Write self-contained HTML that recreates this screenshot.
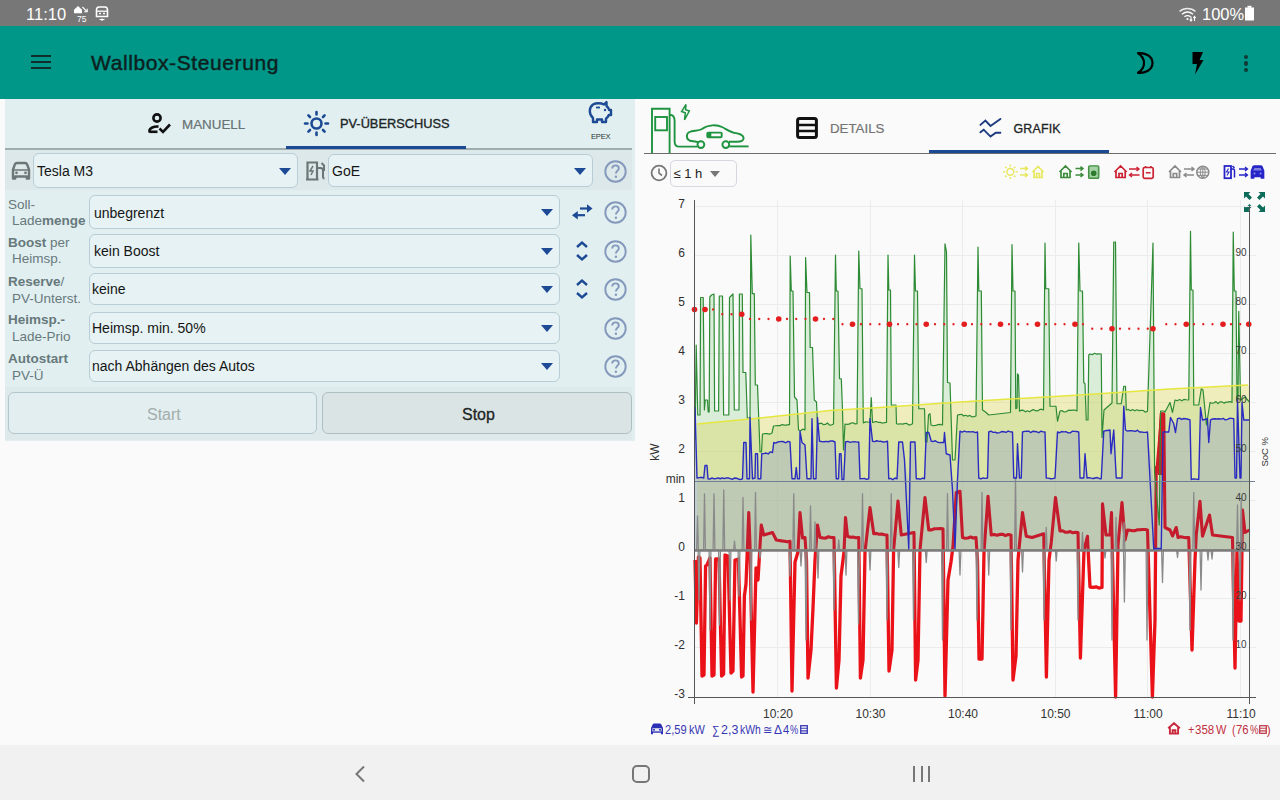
<!DOCTYPE html>
<html><head><meta charset="utf-8">
<style>
*{box-sizing:border-box}
html,body{margin:0;padding:0}
body{width:1280px;height:800px;overflow:hidden;position:relative;background:#fafafa;font-family:"Liberation Sans",sans-serif;color:#222}
.a{position:absolute}
#status{left:0;top:0;width:1280px;height:26px;background:#777777}
#appbar{left:0;top:26px;width:1280px;height:73px;background:#009688}
#nav{left:0;top:745px;width:1280px;height:55px;background:#f1f1f1}
#lp{left:5px;top:99px;width:630px;height:342px;background:#e1eff1}
.t{white-space:nowrap;line-height:1}
.box{position:absolute;border:1px solid #b9cdd6;border-radius:6px;background:#e6f2f3}
.arr{position:absolute;width:0;height:0;border-left:6px solid transparent;border-right:6px solid transparent;border-top:7px solid #1d4a94}
.help{position:absolute;width:24px;height:24px;border:2px solid #7f9fcc;border-radius:50%;color:#7f9fcc;font-size:17px;text-align:center;line-height:20px}
.lbl{position:absolute;font-size:13.5px;color:#67797b;line-height:16.5px;white-space:nowrap}
.lbl b{font-weight:bold}
.val{position:absolute;font-size:14px;color:#151515;white-space:nowrap;line-height:1}
</style></head>
<body>
<div id="status" class="a">
  <div class="a t" style="left:26px;top:6px;font-size:16.5px;color:#fff">11:10</div>
  <div class="a t" style="left:1202px;top:6px;font-size:16.5px;color:#fff">100%</div>
</div>
<div id="appbar" class="a">
  <div class="a t" style="left:91px;top:26px;font-size:21px;color:#0d1f1f;letter-spacing:0.6px;-webkit-text-stroke:0.45px #0d1f1f">Wallbox-Steuerung</div>
</div>

<div id="lp" class="a">
</div>
<!-- tabs -->
<svg class="a" style="left:148px;top:113px" width="24" height="21" viewBox="0 0 24 21">
  <circle cx="9" cy="5" r="3.6" fill="none" stroke="#111" stroke-width="2.6"/>
  <path d="M1.5 19.5 V17.8 C1.5 15 6 13.2 10.5 13.6" fill="none" stroke="#111" stroke-width="2.6"/>
  <path d="M1.3 18.8 H9.5" stroke="#111" stroke-width="2.6"/>
  <path d="M11.5 15.5 L15 19 L22 11.5" fill="none" stroke="#111" stroke-width="2.6"/>
</svg>
<div class="a t" style="left:182px;top:117.7px;font-size:13.4px;color:#667274;-webkit-text-stroke:0.2px #667274">MANUELL</div>
<svg class="a" style="left:303px;top:110px" width="27" height="27" viewBox="0 0 27 27">
  <circle cx="13.5" cy="13.5" r="5" fill="none" stroke="#1d4a94" stroke-width="2.6"/>
  <g stroke="#1d4a94" stroke-width="2.6" stroke-linecap="round">
  <path d="M13.5 2 V4.5 M13.5 22.5 V25 M2 13.5 H4.5 M22.5 13.5 H25 M5.4 5.4 L7 7 M20 20 L21.6 21.6 M5.4 21.6 L7 20 M20 7 L21.6 5.4"/>
  </g>
</svg>
<div class="a t" style="left:340px;top:118px;font-size:12.8px;color:#1c2626;-webkit-text-stroke:0.35px #1c2626">PV-ÜBERSCHUSS</div>
<svg class="a" style="left:588px;top:100px" width="25" height="24" viewBox="0 0 25 24">
  <path d="M5 4.5 C8 2.8 13 2.8 16 4.5 L18.5 2 V6 C20 7.2 21 8.5 21.2 10 H23 V15 H20.8 C20 17 19 18 18 18.5 V22 H14 V19.5 H9 V22 H5 V18 C2.5 16 1.8 13.5 1.8 11 C1.8 8 3 6 5 4.5 Z" fill="none" stroke="#1d4a94" stroke-width="2.4" stroke-linejoin="round"/>
  <circle cx="17" cy="10" r="1.2" fill="#1d4a94"/>
  <path d="M8 7.5 H12" stroke="#1d4a94" stroke-width="1.8"/>
</svg>
<div class="a t" style="left:591px;top:133.3px;font-size:7.6px;color:#2b3333;letter-spacing:-0.25px">EPEX</div>
<div class="a" style="left:5px;top:148px;width:627px;height:2px;background:#9eaeae"></div>
<div class="a" style="left:286px;top:146px;width:180px;height:3px;background:#1d4a94"></div>
<!-- car row -->
<div class="a" style="left:5px;top:150px;width:627px;height:40px;background:#dce8ea"></div>
<svg class="a" style="left:10px;top:161px" width="22" height="20" viewBox="0 0 22 20">
  <path d="M3 8.5 L5 3.2 C5.3 2.5 6 2 6.8 2 H15.2 C16 2 16.7 2.5 17 3.2 L19 8.5 V17.5 H16.8 V15.5 H5.2 V17.5 H3 Z" fill="none" stroke="#6c7676" stroke-width="2.4" stroke-linejoin="round"/>
  <path d="M3 9 H19" stroke="#6c7676" stroke-width="1.5"/>
  <circle cx="6.5" cy="11.8" r="1.4" fill="#6c7676"/><circle cx="15.5" cy="11.8" r="1.4" fill="#6c7676"/>
</svg>
<div class="box" style="left:33px;top:153px;width:265px;height:35px"></div>
<div class="val" style="left:37px;top:164.0px">Tesla M3</div>
<div class="arr" style="left:279px;top:168px"></div>
<svg class="a" style="left:305px;top:160px" width="21" height="21" viewBox="0 0 21 21">
  <path d="M2.5 19.5 V2.5 H12 V19.5" fill="none" stroke="#6c7676" stroke-width="2.2"/>
  <path d="M1 19.5 H13.5" stroke="#6c7676" stroke-width="2"/>
  <path d="M8 6 L5 11 H8 L6 15" fill="none" stroke="#6c7676" stroke-width="1.5"/>
  <path d="M12 8 H15.5 C17 8 18 9 18 10.5 V16.5 C18 17.8 18.8 18.5 19.5 18.5" fill="none" stroke="#6c7676" stroke-width="2"/>
  <path d="M16.5 3 L19 5.5 V11" fill="none" stroke="#6c7676" stroke-width="2"/>
</svg>
<div class="box" style="left:328px;top:154px;width:265px;height:33px"></div>
<div class="val" style="left:332px;top:164.0px">GoE</div>
<div class="arr" style="left:574px;top:168px"></div>

<!-- rows -->
<svg class="a" style="left:603px;top:159px" width="25" height="25" viewBox="0 0 25 25"><circle cx="12.5" cy="12.5" r="10.2" fill="none" stroke="#8499bb" stroke-width="1.9"/><path d="M9.2 9.6 C9.2 7.6 10.6 6.4 12.5 6.4 C14.4 6.4 15.8 7.6 15.8 9.4 C15.8 11.6 12.9 11.8 12.9 14.6" fill="none" stroke="#8499bb" stroke-width="1.9"/><circle cx="12.9" cy="17.8" r="1.2" fill="#8499bb"/></svg>
<div class="box" style="left:89px;top:195px;width:471px;height:34px"></div>
<div class="val" style="left:94px;top:205.5px">unbegrenzt</div>
<div class="arr" style="left:541px;top:209.0px"></div>
<div class="lbl" style="left:8px;top:197.5px;line-height:1">Soll-</div>
<div class="lbl" style="left:12px;top:214.1px;line-height:1">Lade<b>menge</b></div>
<svg class="a" style="left:570px;top:203px" width="24" height="18" viewBox="570 203 24 18">
 <path d="M580 208.5 H588" stroke="#1d4a94" stroke-width="2.2"/>
 <path d="M587 204.2 L592.5 208.5 L587 212.8 Z" fill="#1d4a94"/>
 <path d="M577 215.2 H585" stroke="#1d4a94" stroke-width="2.2"/>
 <path d="M577.8 211 L572 215.2 L577.8 219.4 Z" fill="#1d4a94"/>
</svg>
<svg class="a" style="left:603px;top:200px" width="25" height="25" viewBox="0 0 25 25"><circle cx="12.5" cy="12.5" r="10.2" fill="none" stroke="#8499bb" stroke-width="1.9"/><path d="M9.2 9.6 C9.2 7.6 10.6 6.4 12.5 6.4 C14.4 6.4 15.8 7.6 15.8 9.4 C15.8 11.6 12.9 11.8 12.9 14.6" fill="none" stroke="#8499bb" stroke-width="1.9"/><circle cx="12.9" cy="17.8" r="1.2" fill="#8499bb"/></svg>
<div class="box" style="left:89px;top:234px;width:471px;height:34px"></div>
<div class="val" style="left:94px;top:244.1px">kein Boost</div>
<div class="arr" style="left:541px;top:248.0px"></div>
<div class="lbl" style="left:8px;top:235.7px;line-height:1"><b>Boost</b> per</div>
<div class="lbl" style="left:12px;top:252.3px;line-height:1">Heimsp.</div>
<svg class="a" style="left:575px;top:240px" width="14" height="22" viewBox="0 0 14 22"><path d="M2 7 L7 2.5 L12 7" fill="none" stroke="#1d4a94" stroke-width="2.4"/><path d="M2 15 L7 19.5 L12 15" fill="none" stroke="#1d4a94" stroke-width="2.4"/></svg>
<svg class="a" style="left:603px;top:239px" width="25" height="25" viewBox="0 0 25 25"><circle cx="12.5" cy="12.5" r="10.2" fill="none" stroke="#8499bb" stroke-width="1.9"/><path d="M9.2 9.6 C9.2 7.6 10.6 6.4 12.5 6.4 C14.4 6.4 15.8 7.6 15.8 9.4 C15.8 11.6 12.9 11.8 12.9 14.6" fill="none" stroke="#8499bb" stroke-width="1.9"/><circle cx="12.9" cy="17.8" r="1.2" fill="#8499bb"/></svg>
<div class="box" style="left:89px;top:273px;width:471px;height:32px"></div>
<div class="val" style="left:92px;top:282.3px">keine</div>
<div class="arr" style="left:541px;top:286.0px"></div>
<div class="lbl" style="left:8px;top:275.1px;line-height:1"><b>Reserve</b>/</div>
<div class="lbl" style="left:12px;top:291.8px;line-height:1">PV-Unterst.</div>
<svg class="a" style="left:575px;top:278px" width="14" height="22" viewBox="0 0 14 22"><path d="M2 7 L7 2.5 L12 7" fill="none" stroke="#1d4a94" stroke-width="2.4"/><path d="M2 15 L7 19.5 L12 15" fill="none" stroke="#1d4a94" stroke-width="2.4"/></svg>
<svg class="a" style="left:603px;top:277px" width="25" height="25" viewBox="0 0 25 25"><circle cx="12.5" cy="12.5" r="10.2" fill="none" stroke="#8499bb" stroke-width="1.9"/><path d="M9.2 9.6 C9.2 7.6 10.6 6.4 12.5 6.4 C14.4 6.4 15.8 7.6 15.8 9.4 C15.8 11.6 12.9 11.8 12.9 14.6" fill="none" stroke="#8499bb" stroke-width="1.9"/><circle cx="12.9" cy="17.8" r="1.2" fill="#8499bb"/></svg>
<div class="box" style="left:89px;top:311.5px;width:471px;height:32px"></div>
<div class="val" style="left:92px;top:321.0px">Heimsp. min. 50%</div>
<div class="arr" style="left:541px;top:324.5px"></div>
<div class="lbl" style="left:8px;top:313.2px;line-height:1"><b>Heimsp.-</b></div>
<div class="lbl" style="left:12px;top:330.1px;line-height:1">Lade-Prio</div>
<svg class="a" style="left:603px;top:316px" width="25" height="25" viewBox="0 0 25 25"><circle cx="12.5" cy="12.5" r="10.2" fill="none" stroke="#8499bb" stroke-width="1.9"/><path d="M9.2 9.6 C9.2 7.6 10.6 6.4 12.5 6.4 C14.4 6.4 15.8 7.6 15.8 9.4 C15.8 11.6 12.9 11.8 12.9 14.6" fill="none" stroke="#8499bb" stroke-width="1.9"/><circle cx="12.9" cy="17.8" r="1.2" fill="#8499bb"/></svg>
<div class="box" style="left:89px;top:350px;width:471px;height:32px"></div>
<div class="val" style="left:92px;top:359.1px">nach Abhängen des Autos</div>
<div class="arr" style="left:541px;top:363.0px"></div>
<div class="lbl" style="left:8px;top:351.8px;line-height:1"><b>Autostart</b></div>
<div class="lbl" style="left:12px;top:368.8px;line-height:1">PV-Ü</div>
<svg class="a" style="left:603px;top:354px" width="25" height="25" viewBox="0 0 25 25"><circle cx="12.5" cy="12.5" r="10.2" fill="none" stroke="#8499bb" stroke-width="1.9"/><path d="M9.2 9.6 C9.2 7.6 10.6 6.4 12.5 6.4 C14.4 6.4 15.8 7.6 15.8 9.4 C15.8 11.6 12.9 11.8 12.9 14.6" fill="none" stroke="#8499bb" stroke-width="1.9"/><circle cx="12.9" cy="17.8" r="1.2" fill="#8499bb"/></svg>
<div class="a" style="left:5px;top:387px;width:627px;height:53px;background:#dde9eb"></div>
<div class="box" style="left:8px;top:392px;width:309px;height:42px;background:#e2eeef;border-color:#b3c6cc"></div>
<div class="a t" style="left:147px;top:406.5px;font-size:16px;color:#a3adad">Start</div>
<div class="box" style="left:322px;top:391.5px;width:310px;height:42.5px;background:#dae4e4;border-color:#aebfc4"></div>
<div class="a t" style="left:462px;top:406.5px;font-size:16px;color:#1f2525;-webkit-text-stroke:0.3px #1f2525">Stop</div>
<!-- right header -->
<svg class="a" style="left:645px;top:100px" width="110" height="56" viewBox="645 100 110 56">
 <g fill="none" stroke="#1f9440" stroke-width="1.9">
  <path d="M652 153 V108.8 H669.6 V153"/>
  <rect x="655.2" y="117" width="11.8" height="13.3"/>
  <path d="M669.6 114.7 C673.5 114.7 674.6 117 674.6 121 V141.5 C674.6 145 675.5 146.6 679 146.6 H697.5"/>
  <circle cx="700.9" cy="144.6" r="3.4"/>
  <path d="M698.5 142.2 C695 141 692 141.5 689.5 140.5 C686 139 686 133.5 689.5 132 C693 130.5 699 131 702 129 C708 124.5 717 124.5 722 127 C726 129 729 131.5 733 132.5 C738 133.5 743 134 743.5 137.5 C744 141 741 141.5 737 141.7 H729"/>
  <circle cx="725.8" cy="144.6" r="3.4"/>
  <path d="M729.2 146.4 H748.6"/>
  <rect x="707.3" y="132.6" width="14.4" height="4.6" rx="1"/>
  <path d="M686 104.5 L681.6 111.5 L685.3 112.8 L684.5 119.8 L689.3 111 L685.6 109.8 Z" stroke-width="1.5"/>
 </g>
 <rect x="707.3" y="132.6" width="4" height="4.6" fill="#1f9440"/>
</svg>
<div class="a" style="left:644px;top:152.5px;width:632px;height:1px;background:#6c6c6c"></div>
<div class="a" style="left:929px;top:150px;width:180px;height:3px;background:#1d4a94"></div>
<svg class="a" style="left:796px;top:117px" width="22" height="22" viewBox="0 0 22 22">
 <rect x="1.6" y="1.6" width="18.8" height="18.8" rx="2" fill="none" stroke="#111" stroke-width="3"/>
 <path d="M1.6 8 H20.4 M1.6 14 H20.4" stroke="#111" stroke-width="2.6"/>
</svg>
<div class="a t" style="left:830px;top:122px;font-size:13.3px;color:#747474;-webkit-text-stroke:0.2px #747474">DETAILS</div>
<svg class="a" style="left:974px;top:112px" width="34" height="30" viewBox="974 112 34 30">
 <path d="M980.4 124.9 L985.4 120.6 L990.5 126 L1000.4 118.9" fill="none" stroke="#1c3a7e" stroke-width="1.9" stroke-linecap="round"/>
 <path d="M980.4 132.3 L983.7 129.7 L990.5 136.6 L995.8 132.7 H1000.4" fill="none" stroke="#1c3a7e" stroke-width="1.9" stroke-linecap="round"/>
</svg>
<div class="a t" style="left:1013.5px;top:122.6px;font-size:12.4px;color:#1d2424;-webkit-text-stroke:0.3px #1d2424;letter-spacing:0.2px">GRAFIK</div>
<!-- time selector -->
<svg class="a" style="left:650px;top:164px" width="18" height="18" viewBox="0 0 18 18">
 <circle cx="9" cy="9" r="7.4" fill="none" stroke="#777" stroke-width="1.8"/>
 <path d="M9 4.5 V9.2 L12 11.5" fill="none" stroke="#777" stroke-width="1.6"/>
</svg>
<div class="a" style="left:669.5px;top:159.5px;width:67.5px;height:27px;border:1.5px solid #d6d8e0;border-radius:5px"></div>
<div class="a t" style="left:673.5px;top:167px;font-size:13px;color:#222">≤ 1 h</div>
<div class="a" style="left:710px;top:170.5px;width:0;height:0;border-left:5.5px solid transparent;border-right:5.5px solid transparent;border-top:6px solid #777"></div>
<!-- status icons -->
<svg class="a" style="left:72px;top:4px" width="18" height="19" viewBox="72 4 18 19">
 <path d="M74 9.8 L78 6 L82 9.8 V13.2 H74 Z" fill="#fff"/>
 <path d="M82.5 7 L87.2 11.8 M87.2 8.8 V11.8 H84.2" fill="none" stroke="#fff" stroke-width="1.1"/>
 <text x="77" y="21.5" font-size="8.5" fill="#fff" font-family="Liberation Sans">75</text>
</svg>
<svg class="a" style="left:95px;top:6px" width="14" height="16" viewBox="0 0 14 16">
 <path d="M1.5 4 C1.5 2 2.5 1 4 1 H10 C11.5 1 12.5 2 12.5 4 V10.5 H1.5 Z" fill="none" stroke="#fff" stroke-width="1.6"/>
 <path d="M2 5.2 H12" stroke="#fff" stroke-width="1.3"/>
 <path d="M4 7.5 H6 M8 7.5 H10" stroke="#fff" stroke-width="1.3"/>
 <path d="M4.5 13.5 H9.5 M7 12.5 V15" stroke="#fff" stroke-width="1.2"/>
</svg>
<svg class="a" style="left:1178px;top:6px" width="20" height="16" viewBox="0 0 20 16">
 <path d="M1.5 5.5 C6 1.5 13 1.5 17.5 5.5" fill="none" stroke="#fff" stroke-width="1.4" opacity="0.85"/>
 <path d="M4 8.2 C7.5 5.3 11.5 5.3 15 8.2" fill="none" stroke="#fff" stroke-width="1.4"/>
 <path d="M6.5 10.8 C8.5 9.2 10.5 9.2 12.5 10.8" fill="none" stroke="#fff" stroke-width="1.4"/>
 <circle cx="9.5" cy="13" r="1.1" fill="#fff"/>
 <path d="M13 10.5 V14.5 M11.8 13.5 L13 15 L14.2 13.5 M16.5 15 V11 M15.3 12 L16.5 10.5 L17.7 12" fill="none" stroke="#fff" stroke-width="1.1"/>
</svg>
<svg class="a" style="left:1244px;top:5px" width="11" height="16" viewBox="0 0 11 16">
 <rect x="1" y="2.5" width="9" height="13" fill="#fff"/>
 <rect x="3.5" y="0.8" width="4" height="2" fill="#fff"/>
</svg>
<!-- appbar icons -->
<div class="a" style="left:30.5px;top:55px;width:20.5px;height:2px;background:#0f2e2c"></div>
<div class="a" style="left:30.5px;top:61px;width:20.5px;height:2px;background:#0f2e2c"></div>
<div class="a" style="left:30.5px;top:67px;width:20.5px;height:2px;background:#0f2e2c"></div>
<svg class="a" style="left:1135px;top:51px" width="20" height="24" viewBox="0 0 20 24">
 <path d="M3 2.2 C9 1.5 17.5 4.5 17.5 12 C17.5 19.5 9 22.5 3 21.8 C7.5 19 9 15.5 9 12 C9 8.5 7.5 5 3 2.2 Z" fill="none" stroke="#000" stroke-width="2.2" stroke-linejoin="round"/>
</svg>
<svg class="a" style="left:1191px;top:51px" width="14" height="24" viewBox="0 0 14 24">
 <path d="M1.5 1 H12 L8.5 9 H12.5 L4 23.5 L6 13 H1.5 Z" fill="#000"/>
</svg>
<div class="a" style="left:1243.5px;top:54.5px;width:4.5px;height:4.5px;border-radius:50%;background:#0f3a36"></div>
<div class="a" style="left:1243.5px;top:61px;width:4.5px;height:4.5px;border-radius:50%;background:#0f3a36"></div>
<div class="a" style="left:1243.5px;top:67.5px;width:4.5px;height:4.5px;border-radius:50%;background:#0f3a36"></div>
<!-- legend -->
<svg class="a" style="left:995px;top:160px" width="280" height="26" viewBox="995 160 280 26">
 <g stroke="#e8e860" fill="none" stroke-width="1.5">
  <circle cx="1010.3" cy="171.8" r="3.4"/>
  <path d="M1010.3 164.5 V166.5 M1010.3 177 V179 M1003 171.8 H1005 M1015.6 171.8 H1017.6 M1005.2 166.7 L1006.5 168 M1014.1 175.6 L1015.4 176.9 M1005.2 176.9 L1006.5 175.6 M1014.1 168 L1015.4 166.7"/>
  <path d="M1020 168.6 H1027 M1025 166.6 L1027.5 168.6 L1025 170.6 M1020 175 H1027 M1025 173 L1027.5 175 L1025 177"/>
  <path d="M1032.5 172 L1038 166.5 L1043.5 172 M1034 170.8 V177.5 H1042 V170.8 M1036.5 177.5 V173.5 H1039.5 V177.5" stroke-width="1.7"/>
 </g>
 <g stroke="#3c8c3c" fill="none" stroke-width="1.7">
  <path d="M1059.5 172 L1065.5 166 L1071.5 172 M1061 170.5 V177.5 H1070 V170.5 M1063.8 177.5 V173.5 H1067.2 V177.5"/>
  <path d="M1075.5 168.6 H1082.5 M1080.5 166.6 L1083 168.6 L1080.5 170.6 M1075.5 175 H1082.5 M1080.5 173 L1083 175 L1080.5 177" stroke-width="1.5"/>
  <rect x="1088.8" y="166" width="9.8" height="12.2" rx="1"/>
 </g>
 <rect x="1088.8" y="166" width="9.8" height="12.2" rx="1" fill="#6fb86f" opacity="0.6"/>
 <circle cx="1093.7" cy="173.2" r="2.8" fill="#2e7a2e"/>
 <g stroke="#cc2233" fill="none" stroke-width="1.7">
  <path d="M1114.5 172 L1120.6 166 L1126.7 172 M1116 170.5 V177.5 H1125.2 V170.5 M1119 177.5 V173.5 H1122.2 V177.5"/>
  <path d="M1129 169 H1139 M1136.5 167 L1139 169 L1136.5 171 M1139.5 175 H1129.5 M1132 173 L1129.5 175 L1132 177" stroke-width="1.4"/>
  <rect x="1143.2" y="167.5" width="10" height="10.8" rx="1.5"/>
  <path d="M1145.5 166 V167.5 M1151 166 V167.5 M1145.8 172.8 H1150.6" stroke-width="1.6"/>
 </g>
 <g stroke="#8a8a8a" fill="none" stroke-width="1.7">
  <path d="M1169 172 L1175 166 L1181 172 M1170.5 170.5 V177.5 H1179.5 V170.5 M1173.3 177.5 V173.5 H1176.7 V177.5"/>
  <path d="M1184 169 H1194 M1191.5 167 L1194 169 L1191.5 171 M1194 175 H1184 M1186.5 173 L1184 175 L1186.5 177" stroke-width="1.4"/>
  <circle cx="1202.8" cy="172.2" r="6" stroke-width="1.5"/>
  <path d="M1196.8 172.2 H1208.8 M1202.8 166.2 V178.2 M1197.8 169 H1207.8 M1197.8 175.4 H1207.8 M1202.8 166.2 C1199.5 169 1199.5 175.5 1202.8 178.2 C1206 175.5 1206 169 1202.8 166.2" stroke-width="1"/>
 </g>
 <g stroke="#2626c8" fill="none" stroke-width="1.8">
  <rect x="1224.5" y="166" width="6.5" height="12.2"/>
  <path d="M1228.5 168.5 L1226.5 172 H1229 L1227 175.5" stroke-width="1.1"/>
  <path d="M1231 169 H1233 C1234 169 1234.5 170 1234.5 171 V177.5 M1232.5 166 L1234.5 168" stroke-width="1.5"/>
  <path d="M1239 169 H1247 M1245 167 L1247.5 169 L1245 171 M1239 175 H1247 M1245 173 L1247.5 175 L1245 177" stroke-width="1.3"/>
  <path d="M1251.5 171 L1253 167 C1253.3 166.4 1253.8 166 1254.5 166 H1260.5 C1261.2 166 1261.7 166.4 1262 167 L1263.5 171 V178 H1261.5 V176.5 H1253.5 V178 H1251.5 Z" stroke-width="1.7" fill="#2626c8"/>
 </g>
 <path d="M1254.3 168 H1260.7 L1261.8 170.6 H1253.2 Z" fill="#8080e0"/>
 <circle cx="1254.5" cy="173.6" r="1" fill="#9090e8"/><circle cx="1260.5" cy="173.6" r="1" fill="#9090e8"/>
</svg>
<!-- fullscreen -->
<svg class="a" style="left:1243px;top:191px" width="23" height="22" viewBox="0 0 23 22">
 <g fill="#0d6b5a">
  <path d="M1 1 H7.5 L5.5 3 L9 6.5 L6.5 9 L3 5.5 L1 7.5 Z"/>
  <path d="M22 1 H15.5 L17.5 3 L14 6.5 L16.5 9 L20 5.5 L22 7.5 Z"/>
  <path d="M1 21 H7.5 L5.5 19 L9 15.5 L6.5 13 L3 16.5 L1 14.5 Z"/>
  <path d="M22 21 H15.5 L17.5 19 L14 15.5 L16.5 13 L20 16.5 L22 14.5 Z"/>
 </g>
</svg>
<!-- footer -->
<svg class="a" style="left:650px;top:723px" width="14" height="12" viewBox="0 0 14 12">
 <path d="M1 5 L2.8 1.2 C3 0.7 3.5 0.5 4 0.5 H10 C10.5 0.5 11 0.7 11.2 1.2 L13 5 V11.3 H11 V9.8 H3 V11.3 H1 Z" fill="#2b2fb5"/>
 <rect x="2.4" y="5.2" width="9.2" height="3.2" fill="#fafafa" opacity="0.9"/>
 <circle cx="4" cy="6.8" r="1" fill="#2b2fb5"/><circle cx="10" cy="6.8" r="1" fill="#2b2fb5"/>
</svg>
<div class="a t" style="left:665.2px;top:723.6px;font-size:12px;color:#3636b4;transform-origin:0 0;transform:scaleX(0.925)">2,59</div>
<div class="a t" style="left:688.6px;top:723.6px;font-size:12px;color:#3636b4;transform-origin:0 0;transform:scaleX(0.912)">kW</div>
<div class="a t" style="left:711.5px;top:723.6px;font-size:12px;color:#3636b4;transform-origin:0 0;transform:scaleX(0.876)">∑</div>
<div class="a t" style="left:721.2px;top:723.6px;font-size:12px;color:#3636b4;transform-origin:0 0;transform:scaleX(1.038)">2,3</div>
<div class="a t" style="left:739.5px;top:723.6px;font-size:12px;color:#3636b4;transform-origin:0 0;transform:scaleX(0.863)">kWh</div>
<div class="a t" style="left:762.6px;top:723.6px;font-size:12px;color:#3636b4;transform-origin:0 0;transform:scaleX(0.933)">≅</div>
<div class="a t" style="left:774px;top:723.6px;font-size:12px;color:#3636b4;transform-origin:0 0;transform:scaleX(0.998)">Δ</div>
<div class="a t" style="left:782.6px;top:723.6px;font-size:12px;color:#3636b4;transform-origin:0 0;transform:scaleX(0.929)">4</div>
<div class="a t" style="left:790.2px;top:723.6px;font-size:12px;color:#3636b4;transform-origin:0 0;transform:scaleX(0.768)">%</div>
<svg class="a" style="left:799.5px;top:724.8px" width="8" height="9" viewBox="0 0 8 9">
 <rect x="0.7" y="0.7" width="6.6" height="7.6" fill="none" stroke="#3a3ab5" stroke-width="1.3"/>
 <path d="M0.7 3.3 H7.3 M0.7 5.9 H7.3" stroke="#3a3ab5" stroke-width="1.1"/>
</svg>
<svg class="a" style="left:1167px;top:722px" width="14" height="13" viewBox="0 0 14 13">
 <path d="M1.2 6.3 L7 1.2 L12.8 6.3 M2.9 4.9 V11.6 H11.1 V4.9 M5.6 11.6 V8.2 H8.4 V11.6" fill="none" stroke="#c8283a" stroke-width="1.9"/>
</svg>
<div class="a t" style="left:1187.6px;top:723.6px;font-size:12px;color:#c0303f;transform-origin:0 0;transform:scaleX(0.912)">+</div>
<div class="a t" style="left:1194.8px;top:723.6px;font-size:12px;color:#c0303f;transform-origin:0 0;transform:scaleX(0.959)">358</div>
<div class="a t" style="left:1215.8px;top:723.6px;font-size:12px;color:#c0303f;transform-origin:0 0;transform:scaleX(0.918)">W</div>
<div class="a t" style="left:1232px;top:723.6px;font-size:12px;color:#c0303f;transform-origin:0 0;transform:scaleX(0.875)">(</div>
<div class="a t" style="left:1236px;top:723.6px;font-size:12px;color:#c0303f;transform-origin:0 0;transform:scaleX(0.944)">76</div>
<div class="a t" style="left:1249.8px;top:723.6px;font-size:12px;color:#c0303f;transform-origin:0 0;transform:scaleX(0.806)">%</div>
<div class="a t" style="left:1266.8px;top:723.6px;font-size:12px;color:#c0303f;transform-origin:0 0;transform:scaleX(1.000)">)</div>
<svg class="a" style="left:1259px;top:724.8px" width="8" height="9" viewBox="0 0 8 9">
 <rect x="0.7" y="0.7" width="6.6" height="7.6" fill="none" stroke="#c0404f" stroke-width="1.3"/>
 <path d="M0.7 3.3 H7.3 M0.7 5.9 H7.3" stroke="#c0404f" stroke-width="1.1"/>
</svg>
<!--CHART-->
<svg class="a" style="left:0;top:0" width="1280" height="800" viewBox="0 0 1280 800">
<path d="M695 647.5 H1256 M695 598.5 H1256 M695 549.5 H1256 M695 500.5 H1256 M695 451.5 H1256 M695 402.5 H1256 M695 353.5 H1256 M695 304.5 H1256 M695 255.5 H1256 M695 206.5 H1256 M777.5 200 V697.5 M870.5 200 V697.5 M962.5 200 V697.5 M1055.5 200 V697.5 M1147.5 200 V697.5 M1240.5 200 V697.5" stroke="#ececec" stroke-width="1" fill="none"/>
<polygon points="695.00,440.00 696.20,345.00 697.80,415.00 700.00,415.00 700.60,297.50 703.20,297.50 704.40,410.00 705.20,400.00 707.50,400.00 708.20,412.00 709.20,412.00 709.80,297.00 711.50,295.00 714.00,294.00 714.60,411.00 718.60,411.00 719.30,296.00 722.50,296.00 723.60,415.00 728.80,415.00 729.50,297.50 733.00,294.00 734.30,410.00 739.00,410.00 739.40,294.00 742.30,294.00 743.00,372.50 745.80,372.50 747.30,418.00 750.00,418.00 750.80,235.00 752.30,293.70 754.30,293.70 755.30,385.00 757.50,385.00 760.00,452.00 761.50,452.00 762.50,434.00 764.88,433.65 767.25,433.63 769.62,434.18 772.00,433.00 773.50,426.00 775.64,425.74 777.79,425.65 779.93,425.64 782.07,424.56 784.21,425.10 786.36,425.17 788.50,424.70 789.50,424.70 790.20,256.00 791.30,291.00 793.00,291.00 794.50,397.00 797.00,400.00 798.50,430.00 800.67,430.64 802.83,429.11 805.00,430.00 805.60,257.50 807.00,292.50 809.50,292.50 810.20,347.50 812.50,347.50 814.30,400.00 816.50,402.00 817.50,424.00 819.50,423.57 821.50,423.10 823.50,424.68 825.50,424.43 827.50,422.99 829.50,425.06 831.50,425.02 833.50,424.00 835.50,255.00 836.30,291.00 838.00,291.00 839.50,378.75 841.30,378.75 842.50,410.00 843.50,450.00 845.00,424.00 847.00,424.30 849.00,424.17 851.00,423.12 853.00,422.77 855.00,423.85 857.00,423.75 858.75,251.00 860.00,288.75 862.00,288.75 863.30,423.00 865.53,421.86 867.77,421.99 870.00,422.50 871.25,397.50 872.50,422.50 874.50,421.93 876.50,421.47 878.50,422.42 880.50,422.37 882.50,423.25 884.50,422.54 886.50,422.50 888.00,255.00 888.80,290.00 890.50,290.00 891.30,405.00 896.00,405.00 896.50,423.75 898.50,424.06 900.50,423.75 902.50,424.11 904.50,423.66 906.50,423.26 908.50,424.84 910.50,424.84 912.50,423.75 914.50,255.00 915.50,291.00 917.50,291.00 918.75,408.75 924.50,408.75 925.50,442.00 927.00,442.00 928.50,415.00 930.00,413.75 931.00,425.00 933.30,425.75 935.60,425.46 937.90,424.59 940.20,424.41 942.50,425.00 945.00,243.75 946.50,252.00 947.50,382.50 950.00,383.00 952.50,460.00 955.00,460.00 957.50,415.00 959.56,414.65 961.61,414.28 963.67,415.92 965.72,415.23 967.78,416.32 969.83,415.42 971.89,416.79 973.94,416.65 976.00,416.00 978.00,247.00 978.80,291.00 981.30,291.00 982.50,410.00 985.50,412.00 988.75,415.00 1010.50,412.50 1012.00,244.50 1013.00,291.00 1015.00,291.00 1015.75,408.75 1017.00,408.00 1017.50,373.75 1018.50,375.00 1019.50,411.25 1021.50,410.05 1023.50,410.40 1025.50,411.84 1027.50,410.77 1029.50,411.79 1031.50,410.40 1033.50,409.58 1035.50,410.70 1037.50,410.93 1039.50,409.70 1041.50,409.20 1043.50,410.00 1045.00,243.00 1045.75,288.75 1048.75,288.75 1050.00,406.25 1056.00,406.25 1057.50,421.25 1060.00,411.00 1062.12,410.63 1064.25,412.02 1066.38,411.57 1068.50,410.16 1070.62,410.44 1072.75,410.12 1074.88,410.03 1077.00,411.00 1078.75,243.00 1080.00,291.00 1082.50,291.00 1083.75,382.50 1085.00,383.75 1086.25,420.00 1088.00,420.00 1088.75,355.00 1090.00,354.00 1092.25,354.65 1094.50,353.29 1096.75,354.13 1099.00,353.88 1101.25,354.00 1102.00,437.50 1104.00,410.00 1112.00,403.00 1113.75,242.00 1115.50,242.00 1117.00,403.75 1121.25,403.75 1123.75,386.25 1125.50,386.25 1126.25,410.00 1128.38,409.44 1130.50,410.76 1132.62,409.56 1134.75,410.82 1136.88,409.78 1139.00,410.58 1141.12,410.24 1143.25,410.49 1145.38,412.16 1147.50,411.25 1153.00,243.00 1154.60,473.00 1159.30,525.00 1160.60,411.00 1163.75,411.00 1165.00,412.00 1170.00,402.50 1172.50,412.50 1175.00,400.00 1177.29,400.67 1179.58,399.57 1181.88,400.85 1184.17,399.36 1186.46,399.77 1188.75,400.00 1190.50,231.25 1191.30,290.00 1193.00,290.00 1193.75,405.00 1198.75,405.00 1201.25,388.75 1203.00,390.00 1205.00,410.00 1206.50,425.00 1210.00,402.50 1212.00,403.28 1214.00,402.81 1216.00,401.62 1218.00,403.58 1220.00,401.87 1222.00,401.97 1224.00,403.10 1226.00,402.12 1228.00,402.05 1230.00,401.56 1232.00,402.50 1233.25,232.00 1234.30,291.00 1236.00,291.00 1237.00,400.00 1238.00,400.00 1238.75,311.25 1240.50,400.00 1245.00,397.00 1249.50,402.00 1249.5,550 695,550" fill="rgba(100,190,90,0.21)"/>
<polygon points="697.00,424.00 760.00,418.00 830.00,410.50 880.00,407.50 960.00,402.00 1080.00,395.00 1170.00,389.00 1248.00,385.00 1249.5,385 1249.5,550 697,550" fill="rgba(220,210,50,0.30)"/>
<polygon points="695.00,407.50 697.00,478.00 699.25,477.65 701.50,477.30 703.75,478.00 705.00,465.50 707.00,465.50 708.00,478.75 710.03,479.05 712.06,477.89 714.09,478.82 716.12,478.48 718.15,477.87 720.18,478.76 722.21,477.82 724.24,478.62 726.26,477.89 728.29,477.93 730.32,478.60 732.35,479.40 734.38,478.00 736.41,478.20 738.44,479.00 740.47,479.65 742.50,478.75 743.75,442.50 746.00,442.50 747.00,478.75 749.50,478.75 750.00,417.50 752.50,478.75 755.00,478.00 755.50,453.75 757.50,453.75 758.00,478.75 760.75,478.75 761.75,453.75 763.90,453.65 766.05,453.04 768.20,453.95 770.35,451.84 772.50,452.50 773.75,442.50 775.78,443.15 777.81,441.95 779.84,441.60 781.88,441.49 783.91,441.80 785.94,442.76 787.97,441.42 790.00,442.00 792.00,478.75 795.00,478.75 796.25,467.50 797.50,478.75 799.50,478.75 800.00,431.25 802.00,442.50 805.00,445.00 807.00,478.75 811.00,478.75 812.00,418.75 813.50,478.75 816.00,478.75 817.50,417.50 819.50,441.25 821.71,441.52 823.93,441.74 826.14,441.32 828.36,441.77 830.57,440.91 832.79,441.01 835.00,442.00 836.25,478.75 838.50,478.75 839.50,453.75 841.00,453.75 842.00,479.50 843.75,479.50 845.50,442.00 847.71,441.41 849.92,442.36 852.12,441.86 854.33,441.63 856.54,442.17 858.75,442.00 860.00,478.75 862.19,478.66 864.38,478.35 866.56,479.34 868.75,478.75 870.00,418.75 872.50,441.25 874.64,441.65 876.79,440.74 878.93,441.40 881.07,441.30 883.21,442.00 885.36,441.71 887.50,441.25 888.75,478.75 890.81,478.33 892.88,479.71 894.94,477.99 897.00,478.75 898.75,442.00 902.50,442.00 904.50,460.00 908.75,482.00 910.50,442.00 915.00,442.00 916.25,478.75 918.31,478.59 920.38,479.26 922.44,478.05 924.50,478.75 926.25,432.50 928.75,432.50 931.25,441.25 933.33,441.44 935.42,440.75 937.50,442.21 939.58,442.61 941.67,442.44 943.75,442.50 944.50,432.50 946.25,453.75 950.00,455.00 952.50,482.00 955.00,482.00 957.50,480.00 960.00,431.25 962.19,432.09 964.38,431.06 966.56,431.92 968.75,431.81 970.94,431.88 973.12,431.72 975.31,432.59 977.50,432.00 978.75,478.00 980.94,478.89 983.12,477.95 985.31,478.33 987.50,478.00 988.75,432.00 990.91,431.12 993.07,432.40 995.23,432.29 997.39,432.99 999.55,432.64 1001.70,431.57 1003.86,431.77 1006.02,432.34 1008.18,431.05 1010.34,431.92 1012.50,432.00 1013.75,478.00 1016.50,478.00 1017.50,443.75 1019.50,478.00 1021.25,478.00 1022.50,432.00 1024.55,431.34 1026.59,431.23 1028.64,431.12 1030.68,432.54 1032.73,431.26 1034.77,431.50 1036.82,431.78 1038.86,432.74 1040.91,431.16 1042.95,431.90 1045.00,432.00 1046.25,478.00 1048.44,478.10 1050.62,478.77 1052.81,478.64 1055.00,478.00 1057.50,432.00 1059.62,432.73 1061.75,431.56 1063.88,431.83 1066.00,431.72 1068.12,432.77 1070.25,432.92 1072.38,431.30 1074.50,431.35 1076.62,431.46 1078.75,432.00 1080.00,478.00 1083.75,478.00 1085.00,453.75 1087.00,478.00 1089.04,477.57 1091.07,478.18 1093.11,478.50 1095.14,477.95 1097.18,477.54 1099.21,478.48 1101.25,478.75 1103.75,431.25 1105.83,430.57 1107.92,430.55 1110.00,430.00 1111.00,453.75 1113.75,430.00 1116.25,478.00 1122.00,478.00 1123.75,406.25 1125.50,430.00 1127.50,431.09 1129.50,430.74 1131.50,430.58 1133.50,430.96 1135.50,431.26 1137.50,430.20 1139.50,432.07 1141.50,432.01 1143.50,432.39 1145.50,432.41 1147.50,432.00 1153.75,482.00 1156.25,482.00 1158.75,482.00 1161.25,482.00 1163.00,432.00 1168.75,432.00 1170.50,417.50 1173.75,423.75 1175.50,432.50 1177.50,418.75 1179.58,418.17 1181.67,419.44 1183.75,418.50 1185.83,418.72 1187.92,419.21 1190.00,420.00 1191.25,479.50 1193.75,478.82 1196.25,479.18 1198.75,479.50 1200.50,407.50 1202.50,420.00 1207.50,418.75 1208.75,442.50 1210.50,420.00 1212.61,418.99 1214.73,418.77 1216.84,418.96 1218.95,418.75 1221.07,419.16 1223.18,418.37 1225.30,419.95 1227.41,419.32 1229.52,418.27 1231.64,418.37 1233.75,418.75 1235.00,478.00 1236.50,478.00 1237.50,400.00 1240.00,478.00 1241.00,478.00 1242.00,402.50 1243.75,420.00 1249.50,420.00 1249.5,550 695,550" fill="rgba(147,158,205,0.37)"/>
<defs><clipPath id="cpos"><rect x="690" y="190" width="570" height="360"/></clipPath><clipPath id="cneg"><rect x="690" y="550" width="570" height="160"/></clipPath></defs>
<polyline clip-path="url(#cneg)" points="695.00,560.00 696.40,623.00 698.40,557.00 700.00,558.00 702.00,676.00 704.00,675.00 705.60,566.00 707.00,565.00 710.00,558.00 712.00,676.00 714.00,675.00 715.60,559.00 719.00,559.00 721.60,676.00 723.60,674.00 725.00,555.00 728.00,556.00 731.00,673.00 733.00,671.00 735.00,560.00 738.40,559.00 741.60,677.00 743.00,676.00 744.40,596.00 746.00,584.00 748.75,512.50 750.00,545.00 751.00,600.00 753.00,692.00 756.00,568.00 758.00,580.00 761.25,525.00 763.75,535.00 772.50,532.50 776.25,540.00 779.00,540.45 781.75,540.89 784.50,541.22 787.25,541.71 790.00,541.25 792.00,691.00 795.00,562.00 798.00,552.00 800.00,512.50 802.50,538.00 805.00,537.50 806.50,560.00 808.00,678.00 811.00,650.00 813.00,608.00 815.00,560.00 817.50,525.00 820.00,537.50 822.80,537.88 825.60,538.18 828.40,536.75 831.20,537.44 834.00,537.50 836.40,688.00 839.00,660.00 841.00,576.00 844.00,552.00 845.50,517.50 847.50,536.25 850.31,537.27 853.12,537.11 855.94,537.83 858.75,537.50 860.40,678.00 863.00,660.00 865.00,552.00 870.00,507.50 873.75,533.75 876.40,533.38 879.05,534.20 881.70,534.09 884.35,534.82 887.00,535.00 889.00,671.00 892.00,650.00 893.60,550.00 898.00,501.00 901.25,535.00 914.00,532.50 915.60,680.00 918.00,660.00 920.00,550.00 925.00,497.50 928.75,530.00 931.60,529.87 934.45,528.72 937.30,528.80 940.15,528.65 943.00,528.75 945.00,696.00 948.00,580.00 951.00,562.00 953.00,546.00 956.25,492.50 960.00,491.25 962.50,537.50 965.20,538.17 967.90,537.93 970.60,536.96 973.30,537.98 976.00,537.50 977.50,560.00 979.00,659.00 982.00,659.00 984.00,552.00 988.00,496.25 991.25,535.00 994.07,534.42 996.89,535.19 999.71,534.40 1002.54,534.20 1005.36,535.59 1008.18,534.54 1011.00,535.00 1013.00,680.00 1016.00,656.00 1018.00,560.00 1022.50,512.50 1026.25,536.25 1032.00,537.50 1043.75,533.75 1046.40,677.00 1049.00,560.00 1051.25,542.50 1055.50,497.50 1060.00,531.00 1062.57,530.76 1065.14,532.20 1067.71,532.24 1070.29,531.52 1072.86,532.81 1075.43,532.35 1078.00,532.50 1080.40,658.00 1084.00,550.00 1087.50,536.25 1088.00,548.00 1090.00,587.00 1093.00,587.41 1096.00,586.78 1099.00,588.08 1102.00,587.50 1102.50,503.75 1106.00,535.00 1110.00,535.00 1111.50,512.50 1115.60,697.00 1118.00,545.00 1122.00,502.50 1125.00,540.00 1127.50,530.00 1130.00,530.31 1132.50,530.75 1135.00,530.63 1137.50,529.68 1140.00,529.78 1142.50,529.47 1145.00,529.43 1147.50,530.00 1152.40,697.00 1155.00,620.00 1156.25,467.50 1158.50,466.00 1161.25,413.75 1163.75,413.75 1165.00,527.50 1170.00,530.00 1172.50,536.00 1176.25,527.50 1178.00,537.50 1180.69,536.80 1183.38,537.18 1186.06,537.66 1188.75,537.50 1192.00,650.00 1195.00,560.00 1196.25,535.00 1200.00,501.25 1202.50,536.25 1209.50,515.00 1212.50,535.00 1232.50,537.50 1235.00,668.00 1237.00,550.00 1239.00,621.00 1241.00,621.00 1242.50,510.00 1245.00,532.50 1249.50,530.00" fill="none" stroke="#ea1218" stroke-width="3.3" stroke-linejoin="round"/>
<polyline clip-path="url(#cpos)" points="695.00,560.00 696.40,623.00 698.40,557.00 700.00,558.00 702.00,676.00 704.00,675.00 705.60,566.00 707.00,565.00 710.00,558.00 712.00,676.00 714.00,675.00 715.60,559.00 719.00,559.00 721.60,676.00 723.60,674.00 725.00,555.00 728.00,556.00 731.00,673.00 733.00,671.00 735.00,560.00 738.40,559.00 741.60,677.00 743.00,676.00 744.40,596.00 746.00,584.00 748.75,512.50 750.00,545.00 751.00,600.00 753.00,692.00 756.00,568.00 758.00,580.00 761.25,525.00 763.75,535.00 772.50,532.50 776.25,540.00 779.00,540.45 781.75,540.89 784.50,541.22 787.25,541.71 790.00,541.25 792.00,691.00 795.00,562.00 798.00,552.00 800.00,512.50 802.50,538.00 805.00,537.50 806.50,560.00 808.00,678.00 811.00,650.00 813.00,608.00 815.00,560.00 817.50,525.00 820.00,537.50 822.80,537.88 825.60,538.18 828.40,536.75 831.20,537.44 834.00,537.50 836.40,688.00 839.00,660.00 841.00,576.00 844.00,552.00 845.50,517.50 847.50,536.25 850.31,537.27 853.12,537.11 855.94,537.83 858.75,537.50 860.40,678.00 863.00,660.00 865.00,552.00 870.00,507.50 873.75,533.75 876.40,533.38 879.05,534.20 881.70,534.09 884.35,534.82 887.00,535.00 889.00,671.00 892.00,650.00 893.60,550.00 898.00,501.00 901.25,535.00 914.00,532.50 915.60,680.00 918.00,660.00 920.00,550.00 925.00,497.50 928.75,530.00 931.60,529.87 934.45,528.72 937.30,528.80 940.15,528.65 943.00,528.75 945.00,696.00 948.00,580.00 951.00,562.00 953.00,546.00 956.25,492.50 960.00,491.25 962.50,537.50 965.20,538.17 967.90,537.93 970.60,536.96 973.30,537.98 976.00,537.50 977.50,560.00 979.00,659.00 982.00,659.00 984.00,552.00 988.00,496.25 991.25,535.00 994.07,534.42 996.89,535.19 999.71,534.40 1002.54,534.20 1005.36,535.59 1008.18,534.54 1011.00,535.00 1013.00,680.00 1016.00,656.00 1018.00,560.00 1022.50,512.50 1026.25,536.25 1032.00,537.50 1043.75,533.75 1046.40,677.00 1049.00,560.00 1051.25,542.50 1055.50,497.50 1060.00,531.00 1062.57,530.76 1065.14,532.20 1067.71,532.24 1070.29,531.52 1072.86,532.81 1075.43,532.35 1078.00,532.50 1080.40,658.00 1084.00,550.00 1087.50,536.25 1088.00,548.00 1090.00,587.00 1093.00,587.41 1096.00,586.78 1099.00,588.08 1102.00,587.50 1102.50,503.75 1106.00,535.00 1110.00,535.00 1111.50,512.50 1115.60,697.00 1118.00,545.00 1122.00,502.50 1125.00,540.00 1127.50,530.00 1130.00,530.31 1132.50,530.75 1135.00,530.63 1137.50,529.68 1140.00,529.78 1142.50,529.47 1145.00,529.43 1147.50,530.00 1152.40,697.00 1155.00,620.00 1156.25,467.50 1158.50,466.00 1161.25,413.75 1163.75,413.75 1165.00,527.50 1170.00,530.00 1172.50,536.00 1176.25,527.50 1178.00,537.50 1180.69,536.80 1183.38,537.18 1186.06,537.66 1188.75,537.50 1192.00,650.00 1195.00,560.00 1196.25,535.00 1200.00,501.25 1202.50,536.25 1209.50,515.00 1212.50,535.00 1232.50,537.50 1235.00,668.00 1237.00,550.00 1239.00,621.00 1241.00,621.00 1242.50,510.00 1245.00,532.50 1249.50,530.00" fill="none" stroke="#c41c2c" stroke-width="3.1" stroke-linejoin="round"/>
<polygon points="1155.5,469 1160.3,413 1164.2,413 1163.2,475 1158,475" fill="#d41a24"/>
<polyline points="695.00,550.00 696.60,550.00 697.50,516.00 698.40,550.00 698.10,550.00 699.00,600.00 699.90,550.00 703.60,550.00 704.50,494.00 705.40,550.00 709.10,550.00 710.00,630.00 710.90,550.00 713.10,550.00 714.00,494.00 714.90,550.00 718.60,550.00 719.50,625.00 720.40,550.00 722.85,550.00 723.75,490.00 724.65,550.00 729.10,550.00 730.00,600.00 730.90,550.00 733.60,550.00 734.50,541.00 735.40,550.00 738.10,550.00 739.00,596.00 739.90,550.00 742.10,550.00 743.00,497.50 743.90,550.00 750.10,550.00 751.00,620.00 751.90,550.00 754.60,550.00 755.50,492.50 756.40,550.00 759.10,550.00 760.00,558.00 760.90,550.00 789.10,550.00 790.00,576.00 790.90,550.00 792.85,550.00 793.75,494.00 794.65,550.00 800.10,550.00 801.00,566.00 801.90,550.00 805.10,550.00 806.00,640.00 806.90,550.00 809.60,550.00 810.50,506.00 811.40,550.00 814.10,550.00 815.00,522.00 815.90,550.00 817.10,550.00 818.00,578.00 818.90,550.00 833.10,550.00 834.00,610.00 834.90,550.00 837.85,550.00 838.75,540.00 839.65,550.00 845.10,550.00 846.00,575.00 846.90,550.00 857.60,550.00 858.50,624.00 859.40,550.00 861.60,550.00 862.50,493.75 863.40,550.00 869.10,550.00 870.00,570.00 870.90,550.00 886.10,550.00 887.00,620.00 887.90,550.00 890.35,550.00 891.25,493.75 892.15,550.00 897.85,550.00 898.75,567.50 899.65,550.00 912.60,550.00 913.50,620.00 914.40,550.00 925.35,550.00 926.25,562.50 927.15,550.00 941.60,550.00 942.50,640.00 943.40,550.00 946.60,550.00 947.50,493.75 948.40,550.00 959.10,550.00 960.00,575.00 960.90,550.00 976.10,550.00 977.00,620.00 977.90,550.00 981.10,550.00 982.00,492.50 982.90,550.00 987.85,550.00 988.75,575.00 989.65,550.00 1010.10,550.00 1011.00,630.00 1011.90,550.00 1014.60,550.00 1015.50,477.50 1016.40,550.00 1021.60,550.00 1022.50,572.00 1023.40,550.00 1043.10,550.00 1044.00,620.00 1044.90,550.00 1045.35,550.00 1046.25,527.50 1047.15,550.00 1055.35,550.00 1056.25,561.00 1057.15,550.00 1077.10,550.00 1078.00,620.00 1078.90,550.00 1081.60,550.00 1082.50,532.50 1083.40,550.00 1104.10,550.00 1105.00,558.00 1105.90,550.00 1111.10,550.00 1112.00,640.00 1112.90,550.00 1115.10,550.00 1116.00,517.50 1116.90,550.00 1123.10,550.00 1124.00,522.50 1124.90,550.00 1123.50,550.00 1124.40,602.00 1125.30,550.00 1146.10,550.00 1147.00,640.00 1147.90,550.00 1161.60,550.00 1162.50,582.50 1163.40,550.00 1176.60,550.00 1177.50,557.50 1178.40,550.00 1189.10,550.00 1190.00,630.00 1190.90,550.00 1192.85,550.00 1193.75,492.50 1194.65,550.00 1200.10,550.00 1201.00,590.00 1201.90,550.00 1207.10,550.00 1208.00,560.00 1208.90,550.00 1211.10,550.00 1212.00,559.00 1212.90,550.00 1232.10,550.00 1233.00,640.00 1233.90,550.00 1236.60,550.00 1237.50,505.00 1238.40,550.00 1239.10,550.00 1240.00,600.00 1240.90,550.00 1240.35,550.00 1241.25,498.75 1242.15,550.00 1249.50,550.00" fill="none" stroke="#8a8a8a" stroke-width="1.3" stroke-linejoin="round"/>
<path d="M695 550.5 H1249.5" stroke="#7c7c7c" stroke-width="2.5"/>
<polyline points="695.00,440.00 696.20,345.00 697.80,415.00 700.00,415.00 700.60,297.50 703.20,297.50 704.40,410.00 705.20,400.00 707.50,400.00 708.20,412.00 709.20,412.00 709.80,297.00 711.50,295.00 714.00,294.00 714.60,411.00 718.60,411.00 719.30,296.00 722.50,296.00 723.60,415.00 728.80,415.00 729.50,297.50 733.00,294.00 734.30,410.00 739.00,410.00 739.40,294.00 742.30,294.00 743.00,372.50 745.80,372.50 747.30,418.00 750.00,418.00 750.80,235.00 752.30,293.70 754.30,293.70 755.30,385.00 757.50,385.00 760.00,452.00 761.50,452.00 762.50,434.00 764.88,433.65 767.25,433.63 769.62,434.18 772.00,433.00 773.50,426.00 775.64,425.74 777.79,425.65 779.93,425.64 782.07,424.56 784.21,425.10 786.36,425.17 788.50,424.70 789.50,424.70 790.20,256.00 791.30,291.00 793.00,291.00 794.50,397.00 797.00,400.00 798.50,430.00 800.67,430.64 802.83,429.11 805.00,430.00 805.60,257.50 807.00,292.50 809.50,292.50 810.20,347.50 812.50,347.50 814.30,400.00 816.50,402.00 817.50,424.00 819.50,423.57 821.50,423.10 823.50,424.68 825.50,424.43 827.50,422.99 829.50,425.06 831.50,425.02 833.50,424.00 835.50,255.00 836.30,291.00 838.00,291.00 839.50,378.75 841.30,378.75 842.50,410.00 843.50,450.00 845.00,424.00 847.00,424.30 849.00,424.17 851.00,423.12 853.00,422.77 855.00,423.85 857.00,423.75 858.75,251.00 860.00,288.75 862.00,288.75 863.30,423.00 865.53,421.86 867.77,421.99 870.00,422.50 871.25,397.50 872.50,422.50 874.50,421.93 876.50,421.47 878.50,422.42 880.50,422.37 882.50,423.25 884.50,422.54 886.50,422.50 888.00,255.00 888.80,290.00 890.50,290.00 891.30,405.00 896.00,405.00 896.50,423.75 898.50,424.06 900.50,423.75 902.50,424.11 904.50,423.66 906.50,423.26 908.50,424.84 910.50,424.84 912.50,423.75 914.50,255.00 915.50,291.00 917.50,291.00 918.75,408.75 924.50,408.75 925.50,442.00 927.00,442.00 928.50,415.00 930.00,413.75 931.00,425.00 933.30,425.75 935.60,425.46 937.90,424.59 940.20,424.41 942.50,425.00 945.00,243.75 946.50,252.00 947.50,382.50 950.00,383.00 952.50,460.00 955.00,460.00 957.50,415.00 959.56,414.65 961.61,414.28 963.67,415.92 965.72,415.23 967.78,416.32 969.83,415.42 971.89,416.79 973.94,416.65 976.00,416.00 978.00,247.00 978.80,291.00 981.30,291.00 982.50,410.00 985.50,412.00 988.75,415.00 1010.50,412.50 1012.00,244.50 1013.00,291.00 1015.00,291.00 1015.75,408.75 1017.00,408.00 1017.50,373.75 1018.50,375.00 1019.50,411.25 1021.50,410.05 1023.50,410.40 1025.50,411.84 1027.50,410.77 1029.50,411.79 1031.50,410.40 1033.50,409.58 1035.50,410.70 1037.50,410.93 1039.50,409.70 1041.50,409.20 1043.50,410.00 1045.00,243.00 1045.75,288.75 1048.75,288.75 1050.00,406.25 1056.00,406.25 1057.50,421.25 1060.00,411.00 1062.12,410.63 1064.25,412.02 1066.38,411.57 1068.50,410.16 1070.62,410.44 1072.75,410.12 1074.88,410.03 1077.00,411.00 1078.75,243.00 1080.00,291.00 1082.50,291.00 1083.75,382.50 1085.00,383.75 1086.25,420.00 1088.00,420.00 1088.75,355.00 1090.00,354.00 1092.25,354.65 1094.50,353.29 1096.75,354.13 1099.00,353.88 1101.25,354.00 1102.00,437.50 1104.00,410.00 1112.00,403.00 1113.75,242.00 1115.50,242.00 1117.00,403.75 1121.25,403.75 1123.75,386.25 1125.50,386.25 1126.25,410.00 1128.38,409.44 1130.50,410.76 1132.62,409.56 1134.75,410.82 1136.88,409.78 1139.00,410.58 1141.12,410.24 1143.25,410.49 1145.38,412.16 1147.50,411.25 1153.00,243.00 1154.60,473.00 1159.30,525.00 1160.60,411.00 1163.75,411.00 1165.00,412.00 1170.00,402.50 1172.50,412.50 1175.00,400.00 1177.29,400.67 1179.58,399.57 1181.88,400.85 1184.17,399.36 1186.46,399.77 1188.75,400.00 1190.50,231.25 1191.30,290.00 1193.00,290.00 1193.75,405.00 1198.75,405.00 1201.25,388.75 1203.00,390.00 1205.00,410.00 1206.50,425.00 1210.00,402.50 1212.00,403.28 1214.00,402.81 1216.00,401.62 1218.00,403.58 1220.00,401.87 1222.00,401.97 1224.00,403.10 1226.00,402.12 1228.00,402.05 1230.00,401.56 1232.00,402.50 1233.25,232.00 1234.30,291.00 1236.00,291.00 1237.00,400.00 1238.00,400.00 1238.75,311.25 1240.50,400.00 1245.00,397.00 1249.50,402.00" fill="none" stroke="#2e8b35" stroke-width="1.2" stroke-linejoin="round"/>
<polyline points="697.00,424.00 760.00,418.00 830.00,410.50 880.00,407.50 960.00,402.00 1080.00,395.00 1170.00,389.00 1248.00,385.00" fill="none" stroke="#e6e640" stroke-width="1.5"/>
<polyline points="695.00,407.50 697.00,478.00 699.25,477.65 701.50,477.30 703.75,478.00 705.00,465.50 707.00,465.50 708.00,478.75 710.03,479.05 712.06,477.89 714.09,478.82 716.12,478.48 718.15,477.87 720.18,478.76 722.21,477.82 724.24,478.62 726.26,477.89 728.29,477.93 730.32,478.60 732.35,479.40 734.38,478.00 736.41,478.20 738.44,479.00 740.47,479.65 742.50,478.75 743.75,442.50 746.00,442.50 747.00,478.75 749.50,478.75 750.00,417.50 752.50,478.75 755.00,478.00 755.50,453.75 757.50,453.75 758.00,478.75 760.75,478.75 761.75,453.75 763.90,453.65 766.05,453.04 768.20,453.95 770.35,451.84 772.50,452.50 773.75,442.50 775.78,443.15 777.81,441.95 779.84,441.60 781.88,441.49 783.91,441.80 785.94,442.76 787.97,441.42 790.00,442.00 792.00,478.75 795.00,478.75 796.25,467.50 797.50,478.75 799.50,478.75 800.00,431.25 802.00,442.50 805.00,445.00 807.00,478.75 811.00,478.75 812.00,418.75 813.50,478.75 816.00,478.75 817.50,417.50 819.50,441.25 821.71,441.52 823.93,441.74 826.14,441.32 828.36,441.77 830.57,440.91 832.79,441.01 835.00,442.00 836.25,478.75 838.50,478.75 839.50,453.75 841.00,453.75 842.00,479.50 843.75,479.50 845.50,442.00 847.71,441.41 849.92,442.36 852.12,441.86 854.33,441.63 856.54,442.17 858.75,442.00 860.00,478.75 862.19,478.66 864.38,478.35 866.56,479.34 868.75,478.75 870.00,418.75 872.50,441.25 874.64,441.65 876.79,440.74 878.93,441.40 881.07,441.30 883.21,442.00 885.36,441.71 887.50,441.25 888.75,478.75 890.81,478.33 892.88,479.71 894.94,477.99 897.00,478.75 898.75,442.00 902.50,442.00 904.50,460.00 908.75,548.75 910.50,442.00 915.00,442.00 916.25,478.75 918.31,478.59 920.38,479.26 922.44,478.05 924.50,478.75 926.25,432.50 928.75,432.50 931.25,441.25 933.33,441.44 935.42,440.75 937.50,442.21 939.58,442.61 941.67,442.44 943.75,442.50 944.50,432.50 946.25,453.75 950.00,455.00 952.50,490.00 955.00,548.75 957.50,480.00 960.00,431.25 962.19,432.09 964.38,431.06 966.56,431.92 968.75,431.81 970.94,431.88 973.12,431.72 975.31,432.59 977.50,432.00 978.75,478.00 980.94,478.89 983.12,477.95 985.31,478.33 987.50,478.00 988.75,432.00 990.91,431.12 993.07,432.40 995.23,432.29 997.39,432.99 999.55,432.64 1001.70,431.57 1003.86,431.77 1006.02,432.34 1008.18,431.05 1010.34,431.92 1012.50,432.00 1013.75,478.00 1016.50,478.00 1017.50,443.75 1019.50,478.00 1021.25,478.00 1022.50,432.00 1024.55,431.34 1026.59,431.23 1028.64,431.12 1030.68,432.54 1032.73,431.26 1034.77,431.50 1036.82,431.78 1038.86,432.74 1040.91,431.16 1042.95,431.90 1045.00,432.00 1046.25,478.00 1048.44,478.10 1050.62,478.77 1052.81,478.64 1055.00,478.00 1057.50,432.00 1059.62,432.73 1061.75,431.56 1063.88,431.83 1066.00,431.72 1068.12,432.77 1070.25,432.92 1072.38,431.30 1074.50,431.35 1076.62,431.46 1078.75,432.00 1080.00,478.00 1083.75,478.00 1085.00,453.75 1087.00,478.00 1089.04,477.57 1091.07,478.18 1093.11,478.50 1095.14,477.95 1097.18,477.54 1099.21,478.48 1101.25,478.75 1103.75,431.25 1105.83,430.57 1107.92,430.55 1110.00,430.00 1111.00,453.75 1113.75,430.00 1116.25,478.00 1122.00,478.00 1123.75,406.25 1125.50,430.00 1127.50,431.09 1129.50,430.74 1131.50,430.58 1133.50,430.96 1135.50,431.26 1137.50,430.20 1139.50,432.07 1141.50,432.01 1143.50,432.39 1145.50,432.41 1147.50,432.00 1153.75,548.75 1156.25,548.53 1158.75,548.55 1161.25,548.75 1163.00,432.00 1168.75,432.00 1170.50,417.50 1173.75,423.75 1175.50,432.50 1177.50,418.75 1179.58,418.17 1181.67,419.44 1183.75,418.50 1185.83,418.72 1187.92,419.21 1190.00,420.00 1191.25,479.50 1193.75,478.82 1196.25,479.18 1198.75,479.50 1200.50,407.50 1202.50,420.00 1207.50,418.75 1208.75,442.50 1210.50,420.00 1212.61,418.99 1214.73,418.77 1216.84,418.96 1218.95,418.75 1221.07,419.16 1223.18,418.37 1225.30,419.95 1227.41,419.32 1229.52,418.27 1231.64,418.37 1233.75,418.75 1235.00,478.00 1236.50,478.00 1237.50,400.00 1240.00,478.00 1241.00,478.00 1242.00,402.50 1243.75,420.00 1249.50,420.00" fill="none" stroke="#2a2cc0" stroke-width="1.4" stroke-linejoin="round"/>
<path d="M695 481.5 H1255" stroke="#6f7f96" stroke-width="1"/>
<g fill="#e41e1e"><circle cx="694.5" cy="309.5" r="2.8"/><circle cx="705" cy="309.5" r="2.8"/><circle cx="741.75" cy="314.25" r="2.8"/><circle cx="778.75" cy="319" r="2.8"/><circle cx="815.5" cy="319" r="2.8"/><circle cx="852.5" cy="324.25" r="2.8"/><circle cx="889.5" cy="324.25" r="2.8"/><circle cx="926.25" cy="324.25" r="2.8"/><circle cx="964.25" cy="324.25" r="2.8"/><circle cx="1000.5" cy="324.25" r="2.8"/><circle cx="1037.5" cy="324.25" r="2.8"/><circle cx="1075" cy="324.25" r="2.8"/><circle cx="1112" cy="328.75" r="2.8"/><circle cx="1153" cy="328.75" r="2.8"/><circle cx="1186.25" cy="324.25" r="2.8"/><circle cx="1223" cy="324.25" r="2.8"/><circle cx="1248.75" cy="324.25" r="2.8"/><circle cx="713.00" cy="309.5" r="1.15"/><circle cx="722.25" cy="314.25" r="1.15"/><circle cx="731.50" cy="314.25" r="1.15"/><circle cx="750.00" cy="319" r="1.15"/><circle cx="759.25" cy="319" r="1.15"/><circle cx="768.50" cy="319" r="1.15"/><circle cx="787.00" cy="319" r="1.15"/><circle cx="796.25" cy="319" r="1.15"/><circle cx="805.50" cy="319" r="1.15"/><circle cx="824.00" cy="319" r="1.15"/><circle cx="833.25" cy="319" r="1.15"/><circle cx="842.50" cy="324.25" r="1.15"/><circle cx="861.00" cy="324.25" r="1.15"/><circle cx="870.25" cy="324.25" r="1.15"/><circle cx="879.50" cy="324.25" r="1.15"/><circle cx="898.00" cy="324.25" r="1.15"/><circle cx="907.25" cy="324.25" r="1.15"/><circle cx="916.50" cy="324.25" r="1.15"/><circle cx="935.00" cy="324.25" r="1.15"/><circle cx="944.25" cy="324.25" r="1.15"/><circle cx="953.50" cy="324.25" r="1.15"/><circle cx="972.00" cy="324.25" r="1.15"/><circle cx="981.25" cy="324.25" r="1.15"/><circle cx="990.50" cy="324.25" r="1.15"/><circle cx="1009.00" cy="324.25" r="1.15"/><circle cx="1018.25" cy="324.25" r="1.15"/><circle cx="1027.50" cy="324.25" r="1.15"/><circle cx="1046.00" cy="324.25" r="1.15"/><circle cx="1055.25" cy="324.25" r="1.15"/><circle cx="1064.50" cy="324.25" r="1.15"/><circle cx="1083.00" cy="324.25" r="1.15"/><circle cx="1092.25" cy="328.75" r="1.15"/><circle cx="1101.50" cy="328.75" r="1.15"/><circle cx="1120.00" cy="328.75" r="1.15"/><circle cx="1129.25" cy="328.75" r="1.15"/><circle cx="1138.50" cy="328.75" r="1.15"/><circle cx="1147.75" cy="328.75" r="1.15"/><circle cx="1166.25" cy="324.25" r="1.15"/><circle cx="1175.50" cy="324.25" r="1.15"/><circle cx="1194.00" cy="324.25" r="1.15"/><circle cx="1203.25" cy="324.25" r="1.15"/><circle cx="1212.50" cy="324.25" r="1.15"/><circle cx="1231.00" cy="324.25" r="1.15"/><circle cx="1240.25" cy="324.25" r="1.15"/></g>
<path d="M694.5 200 V704 M688 697.5 H1256 M1249.5 206 V704" stroke="#555" stroke-width="1" fill="none"/>
</svg>
<div class="a t" style="left:660px;width:25px;text-align:right;top:687.5px;font-size:12px;color:#303030">-3</div>
<div class="a t" style="left:660px;width:25px;text-align:right;top:638.5px;font-size:12px;color:#303030">-2</div>
<div class="a t" style="left:660px;width:25px;text-align:right;top:589.5px;font-size:12px;color:#303030">-1</div>
<div class="a t" style="left:660px;width:25px;text-align:right;top:540.5px;font-size:12px;color:#303030">0</div>
<div class="a t" style="left:660px;width:25px;text-align:right;top:491.5px;font-size:12px;color:#303030">1</div>
<div class="a t" style="left:660px;width:25px;text-align:right;top:442.5px;font-size:12px;color:#303030">2</div>
<div class="a t" style="left:660px;width:25px;text-align:right;top:393.5px;font-size:12px;color:#303030">3</div>
<div class="a t" style="left:660px;width:25px;text-align:right;top:344.5px;font-size:12px;color:#303030">4</div>
<div class="a t" style="left:660px;width:25px;text-align:right;top:295.5px;font-size:12px;color:#303030">5</div>
<div class="a t" style="left:660px;width:25px;text-align:right;top:246.5px;font-size:12px;color:#303030">6</div>
<div class="a t" style="left:660px;width:25px;text-align:right;top:197.5px;font-size:12px;color:#303030">7</div>
<div class="a t" style="left:659px;width:26px;text-align:right;top:473px;font-size:12px;color:#303030">min</div>
<div class="a t" style="left:643px;top:446px;width:24px;text-align:center;font-size:12px;color:#333;transform:rotate(-90deg)">kW</div>
<div class="a t" style="left:1245px;top:447px;width:40px;text-align:center;font-size:9.5px;color:#333;transform:rotate(-90deg)">SoC %</div>
<div class="a t" style="left:1235.5px;top:640.0px;font-size:10px;color:#3a3a3a">10</div>
<div class="a t" style="left:1235.5px;top:591.0px;font-size:10px;color:#3a3a3a">20</div>
<div class="a t" style="left:1235.5px;top:542.0px;font-size:10px;color:#3a3a3a">30</div>
<div class="a t" style="left:1235.5px;top:493.0px;font-size:10px;color:#3a3a3a">40</div>
<div class="a t" style="left:1235.5px;top:444.0px;font-size:10px;color:#3a3a3a">50</div>
<div class="a t" style="left:1235.5px;top:395.0px;font-size:10px;color:#3a3a3a">60</div>
<div class="a t" style="left:1235.5px;top:346.0px;font-size:10px;color:#3a3a3a">70</div>
<div class="a t" style="left:1235.5px;top:297.0px;font-size:10px;color:#3a3a3a">80</div>
<div class="a t" style="left:1235.5px;top:248.0px;font-size:10px;color:#3a3a3a">90</div>
<div class="a t" style="left:758px;width:40px;text-align:center;top:707.5px;font-size:12px;color:#333">10:20</div>
<div class="a t" style="left:850.5px;width:40px;text-align:center;top:707.5px;font-size:12px;color:#333">10:30</div>
<div class="a t" style="left:943px;width:40px;text-align:center;top:707.5px;font-size:12px;color:#333">10:40</div>
<div class="a t" style="left:1035.5px;width:40px;text-align:center;top:707.5px;font-size:12px;color:#333">10:50</div>
<div class="a t" style="left:1128px;width:40px;text-align:center;top:707.5px;font-size:12px;color:#333">11:00</div>
<div class="a t" style="left:1221px;width:40px;text-align:center;top:707.5px;font-size:12px;color:#333">11:10</div>
<!--/CHART-->
<div id="nav" class="a">
 <svg class="a" style="left:353px;top:20px" width="14" height="18" viewBox="0 0 14 18"><path d="M11 1.5 L3.5 9 L11 16.5" fill="none" stroke="#777" stroke-width="2"/></svg>
 <div class="a" style="left:632px;top:20px;width:18px;height:18px;border:2px solid #777;border-radius:5px"></div>
 <div class="a" style="left:913px;top:21px;width:2px;height:16px;background:#777"></div>
 <div class="a" style="left:920.5px;top:21px;width:2px;height:16px;background:#777"></div>
 <div class="a" style="left:928px;top:21px;width:2px;height:16px;background:#777"></div>
</div>
</body></html>
